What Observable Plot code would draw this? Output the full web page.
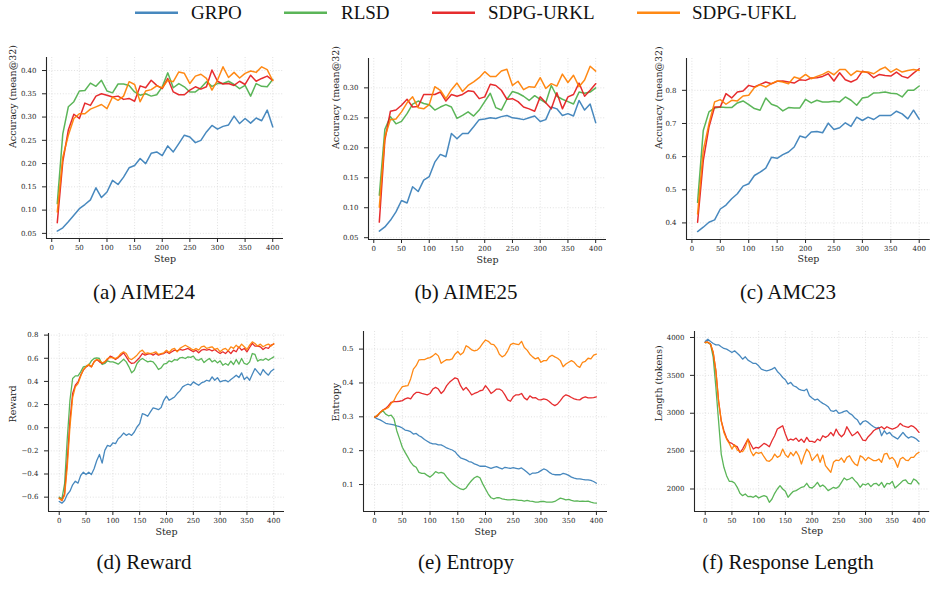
<!DOCTYPE html>
<html>
<head>
<meta charset="utf-8">
<script src="https://cdn.jsdelivr.net/npm/d3@7"></script>
<script src="https://cdn.jsdelivr.net/npm/@observablehq/plot@0.6"></script>
<style>
  body { margin: 0; background: #fff; }
  #fig { position: relative; width: 936px; height: 602px; overflow: hidden; background: #fff; }
  #fig svg.panel { position: absolute; max-width: none; }
  #overlay { position: absolute; left: 0; top: 0; z-index: 2; }
</style>
</head>
<body>
<div id="fig"></div>
<script>
// ---- methods and colours ----
const METHODS = ["GRPO", "RLSD", "SDPG-URKL", "SDPG-UFKL"];
const COLORS = ["#377eb8", "#4daf4a", "#e41a1c", "#ff7f00"];

// ---- step grids ----
const EVAL_STEPS = d3.range(10, 401, 10);   // evaluation every 10 steps
const TRAIN_STEPS = d3.range(0, 401, 5);    // training logs every 5 steps
const X_TICKS = [0, 50, 100, 150, 200, 250, 300, 350, 400];

// ---- (a) AIME24 accuracy (mean@32) ----
const aime24_grpo = [0.055,0.062,0.075,0.089,0.103,0.112,0.122,0.148,0.127,0.139,0.164,0.155,0.171,0.191,0.196,0.211,0.200,0.222,0.225,0.217,0.238,0.225,0.243,0.261,0.257,0.245,0.250,0.268,0.282,0.274,0.280,0.283,0.302,0.286,0.297,0.287,0.298,0.292,0.315,0.279];
const aime24_rlsd = [0.114,0.264,0.322,0.333,0.356,0.357,0.373,0.366,0.379,0.356,0.352,0.371,0.371,0.368,0.354,0.347,0.350,0.345,0.348,0.365,0.395,0.363,0.372,0.365,0.354,0.354,0.363,0.376,0.366,0.372,0.372,0.377,0.370,0.361,0.368,0.345,0.372,0.366,0.365,0.381];
const aime24_urkl = [0.073,0.204,0.272,0.306,0.297,0.330,0.325,0.345,0.350,0.347,0.343,0.345,0.338,0.340,0.334,0.367,0.363,0.379,0.368,0.361,0.383,0.354,0.348,0.348,0.358,0.365,0.360,0.365,0.401,0.377,0.371,0.372,0.368,0.377,0.370,0.390,0.377,0.383,0.388,0.379];
const aime24_ufkl = [0.096,0.214,0.261,0.297,0.307,0.307,0.317,0.322,0.327,0.318,0.343,0.336,0.345,0.376,0.370,0.333,0.356,0.359,0.367,0.363,0.379,0.376,0.397,0.394,0.372,0.388,0.392,0.383,0.358,0.379,0.408,0.385,0.396,0.384,0.394,0.399,0.396,0.408,0.402,0.378];

// ---- (b) AIME25 accuracy (mean@32) ----
const aime25_grpo = [0.061,0.068,0.079,0.093,0.112,0.108,0.135,0.127,0.146,0.152,0.176,0.189,0.185,0.224,0.215,0.224,0.224,0.235,0.247,0.248,0.250,0.249,0.252,0.254,0.250,0.249,0.247,0.250,0.253,0.244,0.247,0.268,0.265,0.254,0.257,0.253,0.279,0.263,0.273,0.242];
const aime25_rlsd = [0.121,0.231,0.252,0.240,0.244,0.257,0.273,0.278,0.274,0.272,0.263,0.268,0.272,0.268,0.249,0.254,0.260,0.253,0.263,0.277,0.291,0.267,0.263,0.281,0.294,0.291,0.286,0.279,0.287,0.281,0.275,0.304,0.286,0.281,0.277,0.273,0.293,0.291,0.293,0.300];
const aime25_urkl = [0.076,0.213,0.261,0.263,0.271,0.281,0.268,0.269,0.289,0.289,0.289,0.293,0.278,0.289,0.286,0.289,0.295,0.294,0.282,0.285,0.306,0.304,0.296,0.281,0.282,0.277,0.268,0.265,0.261,0.285,0.275,0.265,0.292,0.265,0.285,0.289,0.308,0.286,0.296,0.307];
const aime25_ufkl = [0.101,0.218,0.247,0.248,0.260,0.275,0.285,0.267,0.265,0.272,0.302,0.296,0.282,0.297,0.308,0.294,0.304,0.310,0.317,0.327,0.319,0.319,0.328,0.331,0.304,0.311,0.297,0.302,0.301,0.317,0.299,0.307,0.303,0.323,0.309,0.321,0.302,0.313,0.336,0.328];

// ---- (c) AMC23 accuracy (mean@32) ----
const amc23_grpo = [0.374,0.387,0.402,0.409,0.442,0.454,0.473,0.488,0.511,0.518,0.543,0.553,0.565,0.598,0.595,0.606,0.614,0.629,0.662,0.657,0.674,0.676,0.672,0.701,0.682,0.687,0.702,0.691,0.719,0.709,0.719,0.712,0.724,0.724,0.724,0.737,0.729,0.714,0.740,0.713];
const amc23_rlsd = [0.462,0.679,0.735,0.747,0.750,0.748,0.748,0.762,0.768,0.757,0.745,0.740,0.777,0.758,0.752,0.738,0.748,0.747,0.747,0.773,0.762,0.770,0.765,0.765,0.767,0.765,0.780,0.770,0.755,0.777,0.780,0.792,0.793,0.795,0.791,0.790,0.780,0.800,0.800,0.813];
const amc23_urkl = [0.402,0.588,0.689,0.750,0.750,0.790,0.777,0.795,0.798,0.815,0.810,0.818,0.825,0.820,0.827,0.828,0.825,0.822,0.832,0.830,0.837,0.838,0.842,0.850,0.828,0.853,0.832,0.825,0.833,0.858,0.853,0.838,0.848,0.845,0.843,0.855,0.842,0.837,0.852,0.865];
const amc23_ufkl = [0.427,0.619,0.699,0.765,0.772,0.758,0.770,0.768,0.783,0.785,0.808,0.817,0.810,0.820,0.828,0.825,0.820,0.840,0.835,0.848,0.835,0.842,0.848,0.857,0.847,0.863,0.863,0.845,0.858,0.855,0.855,0.850,0.862,0.870,0.855,0.865,0.855,0.860,0.863,0.860];

// ---- (d) training reward ----
const reward_grpo = [-0.638,-0.652,-0.629,-0.577,-0.548,-0.493,-0.462,-0.479,-0.413,-0.384,
  -0.404,-0.384,-0.404,-0.355,-0.283,-0.231,-0.306,-0.196,-0.153,-0.161,
  -0.132,-0.138,-0.095,-0.075,-0.046,-0.066,-0.052,-0.066,-0.037,0.006,
  0.035,0.122,0.113,0.099,0.136,0.171,0.165,0.156,0.174,0.237,
  0.272,0.237,0.251,0.266,0.295,0.318,0.353,0.367,0.376,0.367,
  0.396,0.381,0.367,0.387,0.396,0.410,0.402,0.439,0.410,0.433,
  0.396,0.404,0.410,0.396,0.416,0.433,0.454,0.433,0.474,0.416,
  0.439,0.410,0.462,0.511,0.482,0.454,0.503,0.474,0.454,0.488,
  0.506];
const reward_rlsd = [-0.600,-0.615,-0.485,-0.095,0.237,0.425,0.448,0.448,0.482,0.526,
  0.532,0.540,0.578,0.598,0.604,0.598,0.546,0.555,0.578,0.569,
  0.569,0.560,0.549,0.569,0.592,0.569,0.526,0.474,0.497,0.555,
  0.583,0.598,0.583,0.569,0.575,0.569,0.540,0.503,0.517,0.549,
  0.555,0.578,0.569,0.589,0.583,0.604,0.607,0.598,0.612,0.607,
  0.618,0.589,0.583,0.598,0.563,0.583,0.598,0.569,0.583,0.560,
  0.578,0.540,0.555,0.540,0.575,0.546,0.589,0.549,0.598,0.555,
  0.546,0.569,0.641,0.633,0.575,0.589,0.583,0.598,0.583,0.598,
  0.612];
const reward_urkl = [-0.609,-0.629,-0.571,-0.283,0.064,0.295,0.367,0.396,0.454,0.497,
  0.526,0.540,0.526,0.569,0.589,0.569,0.555,0.569,0.589,0.618,
  0.607,0.589,0.607,0.627,0.647,0.612,0.575,0.555,0.560,0.583,
  0.607,0.641,0.627,0.635,0.641,0.627,0.641,0.627,0.635,0.641,
  0.656,0.641,0.656,0.670,0.664,0.676,0.670,0.676,0.685,0.670,
  0.656,0.670,0.647,0.670,0.676,0.670,0.676,0.664,0.676,0.656,
  0.641,0.656,0.641,0.664,0.641,0.670,0.656,0.699,0.670,0.685,
  0.656,0.693,0.728,0.705,0.705,0.699,0.676,0.693,0.685,0.713,
  0.722];
const reward_ufkl = [-0.609,-0.629,-0.586,-0.340,0.006,0.260,0.353,0.381,0.445,0.503,
  0.526,0.549,0.526,0.569,0.589,0.583,0.560,0.569,0.598,0.607,
  0.604,0.598,0.612,0.641,0.656,0.641,0.598,0.589,0.607,0.627,
  0.656,0.670,0.641,0.647,0.641,0.647,0.656,0.633,0.641,0.647,
  0.670,0.650,0.676,0.685,0.656,0.685,0.699,0.713,0.699,0.685,
  0.670,0.685,0.670,0.699,0.705,0.685,0.693,0.699,0.676,0.685,
  0.656,0.676,0.685,0.664,0.699,0.685,0.713,0.690,0.722,0.699,
  0.676,0.713,0.742,0.728,0.705,0.722,0.699,0.713,0.722,0.705,
  0.728];

// ---- (e) policy entropy ----
const entropy_grpo = [0.299,0.294,0.291,0.286,0.281,0.279,0.278,0.276,0.273,0.271,
  0.267,0.261,0.259,0.256,0.249,0.251,0.244,0.240,0.233,0.228,
  0.223,0.220,0.220,0.217,0.217,0.213,0.208,0.205,0.202,0.197,
  0.187,0.179,0.176,0.173,0.168,0.166,0.161,0.158,0.154,0.154,
  0.154,0.151,0.148,0.151,0.153,0.149,0.146,0.151,0.149,0.148,
  0.150,0.148,0.146,0.149,0.143,0.136,0.129,0.134,0.134,0.136,
  0.141,0.146,0.143,0.136,0.131,0.129,0.129,0.129,0.133,0.131,
  0.127,0.122,0.119,0.117,0.117,0.115,0.114,0.114,0.112,0.109,
  0.104];
const entropy_rlsd = [0.299,0.303,0.312,0.318,0.308,0.303,0.305,0.294,0.259,0.235,
  0.210,0.195,0.181,0.166,0.156,0.151,0.136,0.133,0.133,0.127,
  0.122,0.129,0.138,0.134,0.136,0.133,0.122,0.112,0.104,0.097,
  0.092,0.087,0.085,0.090,0.102,0.112,0.120,0.124,0.120,0.102,
  0.087,0.072,0.061,0.058,0.061,0.061,0.058,0.056,0.055,0.055,
  0.056,0.055,0.053,0.053,0.051,0.053,0.051,0.050,0.048,0.048,
  0.050,0.050,0.048,0.048,0.048,0.050,0.055,0.060,0.058,0.055,
  0.056,0.053,0.051,0.052,0.050,0.051,0.050,0.051,0.048,0.046,
  0.045];
const entropy_urkl = [0.299,0.303,0.313,0.320,0.325,0.333,0.343,0.345,0.345,0.346,
  0.348,0.353,0.356,0.353,0.365,0.372,0.372,0.369,0.367,0.365,
  0.369,0.382,0.387,0.382,0.369,0.377,0.392,0.402,0.409,0.415,
  0.412,0.392,0.379,0.387,0.377,0.365,0.369,0.372,0.377,0.379,
  0.392,0.382,0.369,0.375,0.382,0.382,0.377,0.365,0.350,0.346,
  0.359,0.365,0.365,0.369,0.356,0.350,0.362,0.356,0.357,0.351,
  0.350,0.353,0.351,0.345,0.338,0.333,0.338,0.348,0.359,0.365,
  0.362,0.357,0.353,0.351,0.350,0.356,0.359,0.356,0.356,0.357,
  0.359];
const entropy_ufkl = [0.299,0.305,0.313,0.320,0.323,0.328,0.340,0.348,0.365,0.377,
  0.389,0.391,0.392,0.412,0.441,0.451,0.468,0.469,0.469,0.473,
  0.475,0.480,0.487,0.480,0.458,0.464,0.469,0.468,0.471,0.485,
  0.493,0.483,0.490,0.510,0.505,0.498,0.495,0.497,0.505,0.517,
  0.527,0.523,0.515,0.513,0.503,0.485,0.477,0.482,0.495,0.513,
  0.517,0.515,0.513,0.523,0.505,0.497,0.485,0.477,0.471,0.475,
  0.461,0.466,0.466,0.477,0.482,0.477,0.473,0.466,0.448,0.456,
  0.461,0.466,0.461,0.451,0.446,0.461,0.464,0.473,0.471,0.482,
  0.485];

// ---- (f) response length (tokens) ----
const length_grpo = [3947,3978,3947,3921,3903,3903,3877,3855,3846,3824,
  3802,3824,3793,3758,3714,3745,3701,3679,3657,3657,
  3626,3582,3569,3560,3569,3582,3604,3552,3516,3472,
  3442,3385,3407,3363,3349,3319,3305,3297,3319,3231,
  3200,3174,3187,3156,3130,3112,3086,3033,3024,3042,
  2998,3007,3024,3033,2998,2976,2936,2910,2848,2888,
  2901,2879,2848,2822,2804,2813,2703,2769,2725,2747,
  2703,2681,2659,2703,2747,2703,2672,2690,2681,2659,
  2628];
const length_rlsd = [3934,3934,3912,3736,3341,2901,2461,2286,2176,2101,
  2101,2079,2022,1943,1912,1934,1899,1903,1890,1912,
  1881,1899,1912,1899,1824,1868,1943,2000,2044,2000,
  1969,1890,1934,1969,1978,2000,2022,2031,2075,2022,
  2013,2044,2088,2031,2053,2022,1978,2000,2022,2009,
  2031,2088,2145,2119,2132,2154,2110,2075,2022,2066,
  2053,2075,2031,2066,2075,2044,2088,2022,2075,2066,
  2101,2013,2044,2075,2110,2119,2075,2066,2132,2110,
  2066];
const length_urkl = [3934,3938,3912,3802,3560,3165,2901,2769,2672,2615,
  2602,2571,2558,2483,2527,2593,2659,2593,2527,2549,
  2541,2571,2602,2585,2558,2637,2703,2791,2813,2835,
  2725,2637,2659,2646,2672,2628,2659,2615,2681,2628,
  2628,2615,2659,2637,2703,2681,2703,2747,2703,2791,
  2725,2690,2725,2822,2760,2703,2725,2756,2703,2646,
  2637,2690,2725,2769,2791,2804,2822,2791,2822,2804,
  2791,2804,2822,2866,2835,2822,2813,2835,2822,2791,
  2747];
const length_ufkl = [3934,3938,3912,3802,3560,3165,2901,2747,2659,2602,
  2527,2585,2514,2497,2492,2549,2659,2505,2439,2483,
  2470,2483,2426,2374,2365,2396,2461,2417,2439,2527,
  2453,2417,2483,2439,2497,2439,2330,2439,2527,2483,
  2374,2417,2461,2352,2448,2308,2264,2220,2352,2382,
  2374,2409,2352,2417,2439,2374,2330,2308,2439,2417,
  2374,2417,2396,2374,2374,2396,2352,2461,2470,2396,
  2417,2374,2286,2396,2417,2382,2374,2417,2417,2461,
  2483];

// ---- y tick values ----
const Y_TICKS_AIME24 = [0.05, 0.10, 0.15, 0.20, 0.25, 0.30, 0.35, 0.40];
const Y_TICKS_AIME25 = [0.05, 0.10, 0.15, 0.20, 0.25, 0.30];
const Y_TICKS_AMC23 = [0.4, 0.5, 0.6, 0.7, 0.8];
const Y_TICKS_REWARD = [-0.6, -0.4, -0.2, 0.0, 0.2, 0.4, 0.6, 0.8];
const Y_TICKS_ENTROPY = [0.1, 0.2, 0.3, 0.4, 0.5];
const Y_TICKS_LENGTH = [2000, 2500, 3000, 3500, 4000];

// ---- legend entries and subfigure captions ----
const LEGEND_LABELS = METHODS;
const CAPTIONS = ["(a) AIME24", "(b) AIME25", "(c) AMC23", "(d) Reward", "(e) Entropy", "(f) Response Length"];

// ---- layout of each subplot: frame box [left, top, right, bottom] in page pixels ----
const panels = [
  {frame: [46, 57, 283, 238], steps: EVAL_STEPS, xDomain: [-9.5, 419.5], yDomain: [0.039, 0.428],
   yTicks: Y_TICKS_AIME24, fmt: ".2f", yLabel: "Accuracy (mean@32)", yLabelDx: -34, sw: 1.5,
   values: [aime24_grpo, aime24_rlsd, aime24_urkl, aime24_ufkl]},
  {frame: [368, 58, 606, 239], steps: EVAL_STEPS, xDomain: [-9.5, 419.5], yDomain: [0.047, 0.349],
   yTicks: Y_TICKS_AIME25, fmt: ".2f", yLabel: "Accuracy (mean@32)", yLabelDx: -33, sw: 1.5,
   values: [aime25_grpo, aime25_rlsd, aime25_urkl, aime25_ufkl]},
  {frame: [685.6, 58, 929.4, 239], steps: EVAL_STEPS, xDomain: [-9.5, 419.5], yDomain: [0.35, 0.896],
   yTicks: Y_TICKS_AMC23, fmt: ".1f", yLabel: "Accuracy (mean@32)", yLabelDx: -28, sw: 1.5,
   values: [amc23_grpo, amc23_rlsd, amc23_urkl, amc23_ufkl]},
  {frame: [47.5, 333, 283.5, 511], steps: TRAIN_STEPS, xDomain: [-20, 420], yDomain: [-0.724, 0.814],
   yTicks: Y_TICKS_REWARD, fmt: ".1f", yLabel: "Reward", yLabelDx: -36, sw: 1.3,
   values: [reward_grpo, reward_rlsd, reward_urkl, reward_ufkl]},
  {frame: [362.5, 331, 606.5, 511], steps: TRAIN_STEPS, xDomain: [-20, 420], yDomain: [0.0204, 0.552],
   yTicks: Y_TICKS_ENTROPY, fmt: ".1f", yLabel: "Entropy", yLabelDx: -28, sw: 1.3,
   values: [entropy_grpo, entropy_rlsd, entropy_urkl, entropy_ufkl]},
  {frame: [693.8, 331, 929, 511], steps: TRAIN_STEPS, xDomain: [-20, 420], yDomain: [1703, 4079],
   yTicks: Y_TICKS_LENGTH, fmt: "d", yLabel: "Length (tokens)", yLabelDx: -36, sw: 1.3,
   values: [length_grpo, length_rlsd, length_urkl, length_ufkl]}
];

const fig = document.getElementById("fig");
const M = {left: 46, right: 5, top: 6, bottom: 34};
const gridStyle = {stroke: "#d9d9d9", strokeOpacity: 1, strokeWidth: 0.8, strokeDasharray: "1,1.8"};
const inkColor = "#262626";

for (const p of panels) {
  const [x0, y0, x1, y1] = p.frame;
  const rows = [];
  METHODS.forEach((m, i) => p.values[i].forEach((v, j) => rows.push({step: p.steps[j], value: v, method: m})));
  const fmt = d3.format(p.fmt);
  const svg = Plot.plot({
    width: (x1 - x0) + M.left + M.right,
    height: (y1 - y0) + M.top + M.bottom,
    marginLeft: M.left, marginRight: M.right, marginTop: M.top, marginBottom: M.bottom,
    style: {fontFamily: "'DejaVu Serif', serif", fontSize: "7px", color: inkColor, background: "transparent", overflow: "visible"},
    x: {domain: p.xDomain, label: null},
    y: {domain: p.yDomain, label: null},
    color: {domain: METHODS, range: COLORS},
    marks: [
      Plot.gridX(X_TICKS, gridStyle),
      Plot.gridY(p.yTicks, gridStyle),
      Plot.line(rows, {x: "step", y: "value", z: "method", stroke: "method", strokeWidth: p.sw, strokeOpacity: 0.92, strokeLinejoin: "round"}),
      Plot.ruleX([p.xDomain[0]], {stroke: inkColor, strokeWidth: 1.1}),
      Plot.ruleY([p.yDomain[0]], {stroke: inkColor, strokeWidth: 1.1}),
      Plot.axisX(X_TICKS, {tickSize: 4, tickPadding: 3, label: null, stroke: inkColor}),
      Plot.axisY(p.yTicks, {tickSize: 4, tickPadding: 6, tickFormat: fmt, label: null, stroke: inkColor}),
      Plot.text(["Step"], {text: d => d, frameAnchor: "bottom", dy: 23, fontSize: 9.5, fill: inkColor}),
      Plot.text([p.yLabel], {text: d => d, frameAnchor: "left", dx: p.yLabelDx, rotate: -90, fontSize: 9.5, fill: inkColor})
    ]
  });
  svg.classList.add("panel");
  svg.style.left = (x0 - M.left) + "px";
  svg.style.top = (y0 - M.top) + "px";
  fig.appendChild(svg);
}

// ---- legend (top) and subfigure captions ----
const NS = "http://www.w3.org/2000/svg";
const over = document.createElementNS(NS, "svg");
over.setAttribute("id", "overlay");
over.setAttribute("width", 936);
over.setAttribute("height", 602);
const legendPos = [[135, 178, 191], [284, 327, 341], [432, 475, 488], [637, 680, 692]];
LEGEND_LABELS.forEach((label, i) => {
  const [a, b, t] = legendPos[i];
  const ln = document.createElementNS(NS, "line");
  ln.setAttribute("x1", a); ln.setAttribute("x2", b);
  ln.setAttribute("y1", 12.7); ln.setAttribute("y2", 12.7);
  ln.setAttribute("stroke", COLORS[i]); ln.setAttribute("stroke-width", 2.6); ln.setAttribute("stroke-opacity", 0.92);
  over.appendChild(ln);
  const tx = document.createElementNS(NS, "text");
  tx.setAttribute("x", t); tx.setAttribute("y", 18.6);
  tx.setAttribute("font-family", "'Liberation Serif', serif");
  tx.setAttribute("font-size", 19);
  tx.setAttribute("fill", "#111");
  tx.textContent = label;
  over.appendChild(tx);
});
const capPos = [[144, 299], [466, 299], [788, 299], [144, 569], [466, 569], [788, 569]];
CAPTIONS.forEach((c, i) => {
  const tx = document.createElementNS(NS, "text");
  tx.setAttribute("x", capPos[i][0]); tx.setAttribute("y", capPos[i][1]);
  tx.setAttribute("text-anchor", "middle");
  tx.setAttribute("font-family", "'Liberation Serif', serif");
  tx.setAttribute("font-size", 21);
  tx.setAttribute("fill", "#111");
  tx.textContent = c;
  over.appendChild(tx);
});
fig.appendChild(over);
</script>
</body>
</html>
